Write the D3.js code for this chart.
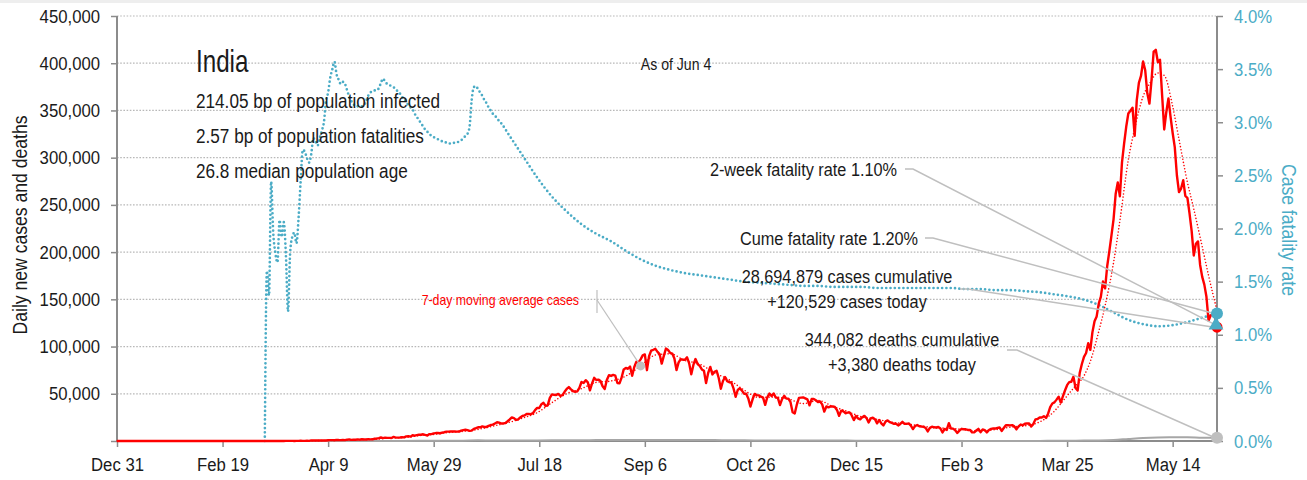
<!DOCTYPE html>
<html><head><meta charset="utf-8">
<script src="https://cdn.jsdelivr.net/npm/d3@7"></script>
<style>
html,body{margin:0;padding:0;background:#fff;}
svg{display:block;font-family:"Liberation Sans",Arial,sans-serif;}
</style></head><body>
<svg id="chart" width="1307" height="480"></svg>
<script>
// ---- data ----
const country = "India";
const asOfLabel = "As of Jun 4";
const statLines = ["214.05 bp of population infected", "2.57 bp of population fatalities", "26.8 median population age"];
const firstDate = "2019-12-31";
const lastDate = "2021-06-04";

// daily new cases, thousands, one value per day from firstDate
const dailyCasesK = [
0,0,0,0,0,0,0,0,0,0,0,0,0,0,0,0,0,0,0,0,0,0,0,0,0,0,0,0,0,0,0,0,0,0,0,0,0,0,0,0,0,0,0,0,0,0,0,0,0,0,0,0,0,0,0,0,0,0,0,0,0,
0,0,0,0,0,0,0,0,0,0,0,0,0,0,0,0,0,0,0,0.1,0.1,0.1,0.1,0,0.1,0.1,0.2,0.1,0.1,0.2,0.1,
0.6,0.5,0.5,0.6,0.6,0.5,0.6,0.6,0.8,0.9,0.9,0.8,1.2,1.0,0.9,1.1,0.9,1.4,1.6,1.2,1.5,1.3,1.7,1.4,1.8,1.6,1.6,1.9,1.7,1.8,
2.4,2.6,3.0,3.7,3.0,3.6,3.3,3.3,3.2,4.3,3.6,3.6,3.7,3.9,3.8,4.9,5.1,4.6,6.1,5.6,6.2,6.6,6.6,7.1,6.4,5.8,7.3,7.3,8.1,8.4,8.4,
8.2,8.9,9.3,9.9,9.9,10.0,10.0,10.0,9.9,10.0,11.0,11.5,11.9,11.5,10.7,11.0,12.9,13.6,14.5,14.5,15.4,14.8,14.9,16.0,16.9,17.3,18.6,19.9,19.5,18.5,
18.7,19.1,20.9,22.8,24.9,24.2,22.3,22.8,24.9,26.5,27.1,28.6,28.7,28.5,29.4,32.7,35.0,34.9,38.9,40.4,37.1,37.7,45.7,49.3,48.9,48.7,49.9,47.7,48.5,52.1,55.1,
57.1,54.7,52.9,52.1,52.5,56.3,62.5,61.5,64.4,62.1,53.6,60.9,66.9,64.6,65.0,63.5,57.9,55.1,64.5,69.7,68.9,70.0,69.2,61.4,61.0,67.2,75.8,77.3,76.5,78.8,69.0,
78.4,83.9,83.3,86.4,90.6,91.7,75.0,89.7,95.7,96.6,97.6,94.4,92.0,81.9,90.1,97.9,96.4,93.3,92.6,87.4,75.1,83.3,86.5,86.1,86.0,88.6,82.2,70.6,80.5,86.8,
81.5,79.5,75.8,74.4,61.3,72.0,78.5,70.5,73.3,74.4,66.7,55.3,63.5,67.7,63.4,62.2,61.9,55.7,46.8,54.0,55.8,53.4,50.1,50.1,45.1,36.5,43.9,49.9,48.6,48.3,46.9,
46.0,38.3,46.3,50.2,47.6,50.4,46.0,45.7,38.1,44.3,47.9,44.9,44.9,41.1,30.5,29.2,38.6,45.6,45.9,46.2,45.2,44.1,37.8,44.4,44.5,43.1,41.3,41.8,38.8,31.1,
36.6,35.6,36.6,36.6,36.0,32.9,26.6,32.1,31.5,29.4,30.0,30.3,27.1,22.1,26.4,24.0,22.9,25.2,26.6,24.3,19.6,23.9,24.7,23.1,18.7,22.3,18.7,16.4,20.5,21.8,20.0,
19.1,18.2,18.2,16.5,18.1,20.3,18.1,18.2,18.6,16.3,12.6,15.9,16.9,15.6,15.2,15.1,13.8,10.1,13.8,15.2,14.5,14.3,14.8,13.2,9.1,12.7,11.7,18.9,13.1,13.1,11.4,
8.6,11.0,12.9,12.4,12.4,11.7,11.8,9.1,9.1,11.1,12.9,9.3,12.2,11.6,9.1,11.6,12.9,13.2,13.2,13.9,14.3,10.6,13.7,16.7,16.6,16.5,16.8,15.5,
12.3,15.5,17.4,16.8,18.3,18.7,18.6,15.4,17.9,22.9,23.3,24.9,24.9,26.3,24.5,28.9,35.9,39.7,40.9,43.8,46.9,40.7,47.3,53.5,59.1,62.3,62.7,68.0,56.2,53.5,72.3,
81.5,89.1,93.2,103.6,96.6,115.3,126.8,131.9,145.4,152.9,168.9,161.7,185.3,200.7,217.4,234.7,261.5,273.8,259.2,295.0,314.8,332.7,346.8,349.7,352.9,323.1,360.9,379.3,386.5,401.9,
392.5,368.1,357.2,382.3,412.3,414.2,401.1,403.7,366.2,329.9,348.4,362.7,343.1,326.1,311.2,281.4,263.5,267.3,276.1,259.6,257.3,240.8,222.3,196.4,208.9,211.3,186.4,173.8,165.6,152.7,127.5,
132.8,134.2,132.4,120.529
];

// 7-day moving average of cases, thousands
const avgCasesK = [
["2019-12-31",0],["2020-03-06",0],["2020-03-13",0.01],["2020-03-20",0.03],["2020-03-27",0.08],["2020-04-03",0.3],["2020-04-10",0.66],["2020-04-17",0.97],["2020-04-24",1.44],
["2020-05-01",1.83],["2020-05-08",3.2],["2020-05-15",3.7],["2020-05-22",5.6],["2020-05-29",6.9],["2020-06-05",9.0],["2020-06-12",10.3],["2020-06-19",12.3],["2020-06-26",15.7],
["2020-07-03",19.3],["2020-07-10",24.1],["2020-07-17",30.0],["2020-07-24",40.6],["2020-07-31",50.1],["2020-08-07",55.4],["2020-08-14",62.0],["2020-08-21",63.5],["2020-08-28",68.8],
["2020-09-04",79.5],["2020-09-11",91.0],["2020-09-18",92.3],["2020-09-25",85.3],["2020-10-02",81.4],["2020-10-09",72.3],["2020-10-16",64.7],["2020-10-23",54.0],["2020-10-30",46.1],
["2020-11-06",46.5],["2020-11-13",44.5],["2020-11-20",39.6],["2020-11-27",42.9],["2020-12-04",36.7],["2020-12-11",31.2],["2020-12-18",25.4],["2020-12-25",23.0],
["2021-01-01",19.8],["2021-01-08",18.2],["2021-01-15",15.9],["2021-01-22",13.8],["2021-01-29",13.4],["2021-02-05",11.7],["2021-02-12",10.7],["2021-02-19",12.0],["2021-02-26",14.6],
["2021-03-05",16.1],["2021-03-12",20.2],["2021-03-19",31.6],["2021-03-22",39.5],["2021-03-26",50.5],["2021-03-29",58.4],["2021-04-02",69.0],["2021-04-05",84.3],["2021-04-09",116.1],
["2021-04-12",143.3],["2021-04-16",188.8],["2021-04-19",233.2],["2021-04-23",297.7],["2021-04-26",330.7],["2021-04-30",364.9],["2021-05-03",378.1],["2021-05-07",389.7],
["2021-05-10",387.1],["2021-05-14",354.3],["2021-05-17",319.5],["2021-05-21",273.8],["2021-05-24",245.7],["2021-05-28",205.7],["2021-05-31",175.2],["2021-06-04",138.0]
];

// daily deaths
const dailyDeaths = [
["2019-12-31",0],["2020-03-06",0],["2020-03-20",1],["2020-03-27",4],["2020-04-03",12],["2020-04-10",35],["2020-04-17",40],["2020-04-24",50],["2020-05-01",70],["2020-05-08",100],
["2020-05-15",110],["2020-05-22",140],["2020-05-29",180],["2020-06-05",260],["2020-06-12",360],["2020-06-19",700],["2020-06-26",400],["2020-07-03",440],["2020-07-10",490],
["2020-07-17",600],["2020-07-24",720],["2020-07-31",770],["2020-08-07",860],["2020-08-14",950],["2020-08-21",960],["2020-08-28",980],["2020-09-04",1040],["2020-09-11",1140],
["2020-09-18",1160],["2020-09-25",1120],["2020-10-02",1080],["2020-10-09",960],["2020-10-16",800],["2020-10-23",680],["2020-10-30",540],["2020-11-06",560],["2020-11-13",520],
["2020-11-20",510],["2020-11-27",500],["2020-12-04",480],["2020-12-11",410],["2020-12-18",340],["2020-12-25",300],["2021-01-01",260],["2021-01-08",230],["2021-01-15",190],
["2021-01-22",160],["2021-01-29",140],["2021-02-05",110],["2021-02-12",100],["2021-02-19",100],["2021-02-26",110],["2021-03-05",110],["2021-03-12",120],["2021-03-19",160],
["2021-03-26",260],["2021-04-02",420],["2021-04-09",650],["2021-04-16",1150],["2021-04-23",2200],["2021-04-30",3200],["2021-05-07",3800],["2021-05-14",4000],
["2021-05-21",4100],["2021-05-28",3500],["2021-06-04",3380]
];

// case fatality rate (%), daily from cfrStart through Jun 30 2020
const cfrStart = "2020-03-10";
const cfrDaily = [
0,1.6,1.37,2.44,1.96,1.77,1.68,2.08,1.92,2.06,1.75,1.22,1.77,1.92,1.96,1.86,2.1,2.45,2.74,2.72,2.66,2.62,
2.7,2.85,2.82,2.78,2.85,2.92,3.0,3.2,3.28,3.42,3.5,3.57,3.45,3.4,3.36,3.38,3.36,3.3,3.24,3.2,3.17,3.15,3.15,3.15,3.15,3.16,3.2,3.25,3.28,3.29,
3.3,3.3,3.32,3.37,3.41,3.38,3.36,3.35,3.34,3.33,3.31,3.29,3.27,3.24,3.22,3.19,3.16,3.14,3.12,3.08,3.05,3.02,2.99,2.96,2.93,2.91,2.89,2.87,2.86,2.85,2.84,
2.83,2.82,2.81,2.81,2.8,2.8,2.8,2.81,2.81,2.82,2.83,2.85,2.87,2.89,2.96,3.21,3.33,3.34,3.31,3.28,3.25,3.21,3.18,3.14,3.11,3.08,3.06,3.04,3.01,2.99
];
// case fatality rate (%), weekly afterwards
const cfrWeekly = [
["2020-07-03",2.9],["2020-07-10",2.69],["2020-07-17",2.48],["2020-07-24",2.3],["2020-07-31",2.16],["2020-08-07",2.04],["2020-08-14",1.95],["2020-08-21",1.88],["2020-08-28",1.79],
["2020-09-04",1.71],["2020-09-11",1.65],["2020-09-18",1.61],["2020-09-25",1.58],["2020-10-02",1.56],["2020-10-09",1.54],["2020-10-16",1.52],["2020-10-23",1.5],["2020-10-30",1.49],
["2020-11-06",1.48],["2020-11-13",1.47],["2020-11-20",1.46],["2020-11-27",1.46],["2020-12-04",1.45],["2020-12-11",1.45],["2020-12-18",1.45],["2020-12-25",1.44],
["2021-01-01",1.44],["2021-01-08",1.44],["2021-01-15",1.44],["2021-01-22",1.44],["2021-01-29",1.44],["2021-02-05",1.43],["2021-02-12",1.43],["2021-02-19",1.42],["2021-02-26",1.42],
["2021-03-05",1.41],["2021-03-12",1.4],["2021-03-19",1.38],["2021-03-26",1.36],["2021-04-02",1.33],["2021-04-09",1.28],["2021-04-16",1.21],["2021-04-23",1.14],["2021-04-30",1.1],
["2021-05-07",1.08],["2021-05-14",1.09],["2021-05-21",1.12],["2021-05-28",1.16],["2021-06-04",1.2]
];

// latest figures
const totalCases = 28694879, todayCases = 120529;
const totalDeaths = 344082, todayDeaths = 3380;
const cumeRate = 1.20, twoWeekRate = 1.10;

// axes
const xTickDates = ["2019-12-31","2020-02-19","2020-04-09","2020-05-29","2020-07-18","2020-09-06","2020-10-26","2020-12-15","2021-02-03","2021-03-25","2021-05-14"];
const xTickLabels = ["Dec 31","Feb 19","Apr 9","May 29","Jul 18","Sep 6","Oct 26","Dec 15","Feb 3","Mar 25","May 14"];
const yTicks = [0,50000,100000,150000,200000,250000,300000,350000,400000,450000];
const rTicks = [0,0.5,1,1.5,2,2.5,3,3.5,4];

// ---- drawing ----
const BLUE = "#4bacc6", RED = "#ff0000", GREY = "#bfbfbf", AXIS = "#8c8c8c", INK = "#1a1a1a";
const SX = 0.88; // horizontal squeeze giving a condensed face
const parse = d3.timeParse("%Y-%m-%d");
const svg = d3.select("#chart");
const L = 117, R = 1217, T = 16, B = 441;

// narrow each text by scaling it about its own anchor point
function squeeze(sel, sx = SX) {
  sel.each(function () {
    const t = d3.select(this);
    const tx = +t.attr("x") || 0, ty = +t.attr("y") || 0;
    const pre = t.attr("transform") || "";
    t.attr("x", null).attr("y", null).attr("transform", `${pre} translate(${tx},${ty}) scale(${sx},1)`);
  });
}

const x = d3.scaleTime().domain([parse(firstDate), parse(lastDate)]).range([L, R]);
const y = d3.scaleLinear().domain([0, 450000]).range([B, T]);
const yR = d3.scaleLinear().domain([0, 4]).range([B, T]);

svg.append("rect").attr("x", 0).attr("y", 0).attr("width", 1307).attr("height", 3).attr("fill", "#eeeeee");

// gridlines
svg.append("g").selectAll("line").data(yTicks.filter(d => d > 0)).join("line")
  .attr("x1", L).attr("x2", R).attr("y1", d => y(d)).attr("y2", d => y(d))
  .attr("stroke", "#b8b8b8").attr("stroke-width", 1.2).attr("stroke-dasharray", "1.6,1.6");

const fmt = d3.format(",");
// left axis
const gL = svg.append("g").attr("transform", `translate(${L},0)`)
  .call(d3.axisLeft(y).tickValues(yTicks).tickSize(6).tickPadding(11).tickFormat(d => d === 0 ? "" : fmt(d)));
// right axis
const gR = svg.append("g").attr("transform", `translate(${R},0)`)
  .call(d3.axisRight(yR).tickValues(rTicks).tickSize(6).tickPadding(11).tickFormat(d => d.toFixed(1) + "%"));
// bottom axis
const gB = svg.append("g").attr("transform", `translate(0,${B})`)
  .call(d3.axisBottom(x).tickValues(xTickDates.map(parse)).tickSize(6).tickPadding(10).tickFormat((d, i) => xTickLabels[i]));

[gL, gR, gB].forEach(g => {
  g.select(".domain").attr("stroke", AXIS).attr("stroke-width", 2);
  g.selectAll(".tick line").attr("stroke", AXIS).attr("stroke-width", 1.5);
  g.selectAll("text").attr("font-size", 19).attr("font-family", null).attr("fill", INK);
  squeeze(g.selectAll("text"));
});
gR.selectAll("text").attr("fill", BLUE);
gL.select(".domain").attr("d", `M0,${T}V${B}`);
gR.select(".domain").attr("d", `M0,${T}V${B}`);
gB.select(".domain").attr("d", `M${L},0H${R}`);

// axis titles
const titles = svg.append("g").attr("font-size", 20).attr("text-anchor", "middle");
titles.append("text").attr("transform", "translate(27,225) rotate(-90)").attr("fill", INK).text("Daily new cases and deaths");
titles.append("text").attr("transform", "translate(1282,230) rotate(90)").attr("fill", BLUE).text("Case fatality rate");
squeeze(titles.selectAll("text"));

// series
const casesSeries = dailyCasesK.map((v, i) => ({ date: d3.timeDay.offset(parse(firstDate), i), value: v * 1000 }));
const avgSeries = avgCasesK.map(([d, v]) => ({ date: parse(d), value: v * 1000 }));
const deathSeries = dailyDeaths.map(([d, v]) => ({ date: parse(d), value: v }));
const cfrSeries = cfrDaily.map((v, i) => ({ date: d3.timeDay.offset(parse(cfrStart), i), value: v }))
  .concat(cfrWeekly.map(([d, v]) => ({ date: parse(d), value: v })));

svg.append("path").datum(cfrSeries)
  .attr("d", d3.line().x(d => x(d.date)).y(d => yR(d.value)).curve(d3.curveMonotoneX)).attr("fill", "none")
  .attr("stroke", BLUE).attr("stroke-width", 2.7).attr("stroke-linecap", "round").attr("stroke-dasharray", "0,4.3");

svg.append("path").datum(deathSeries)
  .attr("d", d3.line().x(d => x(d.date)).y(d => y(d.value)).curve(d3.curveMonotoneX)).attr("fill", "none")
  .attr("stroke", "#a6a6a6").attr("stroke-width", 2);

svg.append("path").datum(casesSeries)
  .attr("d", d3.line().x(d => x(d.date)).y(d => y(d.value))).attr("fill", "none")
  .attr("stroke", RED).attr("stroke-width", 2.4).attr("stroke-linejoin", "round");

svg.append("path").datum(avgSeries)
  .attr("d", d3.line().x(d => x(d.date)).y(d => y(d.value)).curve(d3.curveMonotoneX)).attr("fill", "none")
  .attr("stroke", RED).attr("stroke-width", 1.6).attr("stroke-linecap", "round").attr("stroke-dasharray", "0,3.2");

// "7-day moving average cases" callout
const avgPick = avgSeries.find(d => +d.date === +parse("2020-09-04"));
const callout = svg.append("g");
callout.append("line").attr("x1", 597).attr("x2", 597).attr("y1", 290).attr("y2", 313).attr("stroke", GREY).attr("stroke-width", 1.2);
callout.append("line").attr("x1", 597).attr("y1", 300).attr("x2", x(avgPick.date)).attr("y2", y(avgPick.value)).attr("stroke", GREY).attr("stroke-width", 1.2);
callout.append("circle").attr("cx", x(avgPick.date)).attr("cy", y(avgPick.value)).attr("r", 4.5).attr("fill", GREY);
callout.append("text").attr("x", 579).attr("y", 305).attr("text-anchor", "end").attr("font-size", 14).attr("fill", RED).text("7-day moving average cases");
squeeze(callout.selectAll("text"));

// end-of-series labels with leaders
const endX = x(parse(lastDate));
const leaders = [
  [[905, 169], [913, 169], [endX - 3, yR(twoWeekRate)]],
  [[925, 238], [933, 238], [endX - 3, yR(cumeRate)]],
  [[960, 289], [968, 289], [endX - 3, y(todayCases)]],
  [[1007, 350], [1017, 350], [endX - 2, y(todayDeaths)]]
];
svg.append("g").selectAll("path").data(leaders).join("path")
  .attr("d", d => d3.line()(d)).attr("fill", "none").attr("stroke", GREY).attr("stroke-width", 1.5);

const endMarks = svg.append("g");
endMarks.append("circle").attr("cx", endX).attr("cy", y(todayCases)).attr("r", 5.5).attr("fill", RED);
endMarks.append("circle").attr("cx", endX).attr("cy", y(todayDeaths)).attr("r", 6).attr("fill", GREY);
endMarks.append("circle").attr("cx", endX).attr("cy", yR(cumeRate)).attr("r", 6).attr("fill", BLUE);
endMarks.append("path").attr("d", d3.symbol(d3.symbolTriangle, 95)())
  .attr("transform", `translate(${endX - 1},${yR(twoWeekRate) + 1})`).attr("fill", BLUE);

const ann = svg.append("g").attr("font-size", 18.5).attr("fill", INK);
ann.append("text").attr("x", 897).attr("y", 176).attr("text-anchor", "end").text(`2-week fatality rate ${twoWeekRate.toFixed(2)}%`);
ann.append("text").attr("x", 918).attr("y", 245).attr("text-anchor", "end").text(`Cume fatality rate ${cumeRate.toFixed(2)}%`);
ann.append("text").attr("x", 847).attr("y", 283).attr("text-anchor", "middle").text(`${fmt(totalCases)} cases cumulative`);
ann.append("text").attr("x", 847).attr("y", 308).attr("text-anchor", "middle").text(`+${fmt(todayCases)} cases today`);
ann.append("text").attr("x", 902).attr("y", 346).attr("text-anchor", "middle").text(`${fmt(totalDeaths)} deaths cumulative`);
ann.append("text").attr("x", 902).attr("y", 371).attr("text-anchor", "middle").text(`+${fmt(todayDeaths)} deaths today`);
squeeze(ann.selectAll("text"));

// title block
const head = svg.append("g").attr("fill", INK);
head.append("text").attr("x", 196).attr("y", 72).attr("font-size", 31).text(country);
head.selectAll("text.stat").data(statLines).join("text").attr("class", "stat")
  .attr("x", 196).attr("y", (d, i) => 108 + i * 35).attr("font-size", 19.5).text(d => d);
head.append("text").attr("x", 676).attr("y", 70).attr("text-anchor", "middle").attr("font-size", 16).text(asOfLabel);
squeeze(head.selectAll("text"));
head.select("text").attr("transform", "translate(196,72) scale(0.78,1)");
</script>
</body></html>
